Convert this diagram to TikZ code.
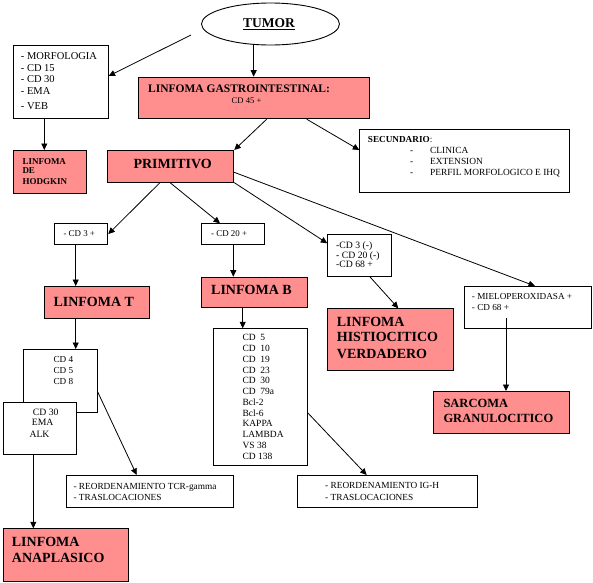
\documentclass[tikz,border=0pt]{standalone}
\usepackage{fontspec}
\setmainfont{Liberation Serif}
\usetikzlibrary{arrows.meta,shapes.geometric,calc}
\definecolor{pinkc}{RGB}{255,143,143}
\newcommand{\fs}[1]{\fontsize{#1}{#1}\selectfont}
\begin{document}
\begin{tikzpicture}[x=1pt,y=-1pt,
  box/.style={draw, line width=0.9pt, fill=white, inner sep=0pt, anchor=north west},
  pbox/.style={box, fill=pinkc},
  txt/.style={inner sep=0pt, anchor=base west},
  ctxt/.style={inner sep=0pt, anchor=base},
  arr/.style={line width=0.8pt, -{Triangle[length=6.5pt,width=6pt]}},
  ln/.style={line width=0.8pt}]
\useasboundingbox (0,0) rectangle (593,582);

% ---------- boxes ----------
\node[ellipse, draw, line width=0.9pt, inner sep=0pt, minimum width=138pt, minimum height=42pt] (tumor) at (270.5,24) {};
\node[pbox, minimum width=231pt, minimum height=41.6pt] (gastro) at (138.3,76.7) {};
\node[box, minimum width=95pt, minimum height=73.3pt] (morf) at (12.7,45) {};
\node[pbox, minimum width=73.3pt, minimum height=42.7pt] (hodg) at (12.7,150) {};
\node[pbox, minimum width=126pt, minimum height=31.7pt] (prim) at (107.3,150) {};
\node[box, minimum width=210pt, minimum height=63pt] (sec) at (359.3,129.3) {};
\node[box, minimum width=53pt, minimum height=20.7pt] (cdtp) at (54.3,223.3) {};
\node[box, minimum width=63.3pt, minimum height=20.7pt] (cdbp) at (201,223.3) {};
\node[box, minimum width=63.4pt, minimum height=41.7pt] (cdm) at (327.3,234.3) {};
\node[box, minimum width=126.7pt, minimum height=42.3pt] (mielo) at (464.3,286) {};
\node[pbox, minimum width=105pt, minimum height=32.3pt] (lint) at (44.3,286) {};
\node[pbox, minimum width=105.7pt, minimum height=30pt] (linb) at (201,276.7) {};
\node[pbox, minimum width=126pt, minimum height=61.7pt] (hist) at (327.3,308.3) {};
\node[pbox, minimum width=136.6pt, minimum height=42.3pt] (sarc) at (432.7,391) {};
\node[box, minimum width=73.4pt, minimum height=62.7pt] (cdq) at (23.3,349) {};
\node[box, minimum width=73pt, minimum height=51.7pt] (cdth) at (2.7,402.3) {};
\node[box, minimum width=94pt, minimum height=136.7pt] (lbl) at (212.7,328.3) {};
\node[box, minimum width=167.6pt, minimum height=32.3pt] (tcr) at (65.7,475) {};
\node[box, minimum width=180.6pt, minimum height=31.7pt] (igh) at (296.7,475) {};
\node[pbox, minimum width=125.6pt, minimum height=52.4pt] (anap) at (2.7,528.3) {};

% ---------- texts ----------
\node[ctxt, font=\fs{13.5}\bfseries] (tumorT) at (269,27.3) {\underline{TUMOR}};
\node[txt, font=\fs{11.5}\bfseries] (gastroT) at (148,92) {LINFOMA GASTROINTESTINAL:};
\node[ctxt, font=\fs{8.6}] (gastroT2) at (246.5,103.5) {CD 45 +};

\foreach \t/\yy [count=\i] in {- MORFOLOGIA/59, - CD 15/71, - CD 30/82.7, - EMA/94.7, - VEB/109}
  \node[txt, font=\fs{10.5}] (morfT\i) at (20.7,\yy) {\t};

\foreach \t/\yy [count=\i] in {LINFOMA/164, DE/173.5, HODGKIN/184.3}
  \node[txt, font=\fs{9}\bfseries] (hodgT\i) at (22.3,\yy) {\t};

\node[ctxt, font=\fs{14}\bfseries] (primT) at (172.7,168.3) {PRIMITIVO};

\node[txt, font=\fs{9.2}] (secT) at (367.7,142.7) {\textbf{SECUNDARIO}:};
\foreach \t/\yy [count=\i] in {CLINICA/153.3, EXTENSION/164, PERFIL MORFOLOGICO E IHQ/175}{
  \node[txt, font=\fs{9.4}] (secD\i) at (410,\yy) {-};
  \node[txt, font=\fs{9.4}] (secT\i) at (430,\yy) {\t};
}

\node[txt, font=\fs{8.9}] (cdtpT) at (63.3,236) {- CD 3 +};
\node[txt, font=\fs{8.9}] (cdbpT) at (211,236) {- CD 20 +};

\foreach \t/\yy [count=\i] in {-CD 3 (-)/248.5, - CD 20 (-)/258.3, -CD 68 +/267.7}
  \node[txt, font=\fs{9.7}] (cdmT\i) at (336,\yy) {\t};

\foreach \t/\yy [count=\i] in {- MIELOPEROXIDASA +/299.3, - CD 68 +/310.7}
  \node[txt, font=\fs{9.2}] (mieloT\i) at (471.7,\yy) {\t};

\node[txt, font=\fs{14}\bfseries] (lintT) at (53.3,306) {LINFOMA T};
\node[txt, font=\fs{14}\bfseries] (linbT) at (211,294.3) {LINFOMA B};

\foreach \t/\yy [count=\i] in {LINFOMA/326, HISTIOCITICO/341.7, VERDADERO/358.3}
  \node[txt, font=\fs{14}\bfseries] (histT\i) at (336.7,\yy) {\t};

\foreach \t/\yy [count=\i] in {SARCOMA/407, GRANULOCITICO/422}
  \node[txt, font=\fs{12.5}\bfseries] (sarcT\i) at (443.3,\yy) {\t};

\foreach \t/\yy [count=\i] in {CD 4/362.3, CD 5/373.3, CD 8/384.3}
  \node[txt, font=\fs{9.2}] (cdqT\i) at (53.3,\yy) {\t};

\node[txt, font=\fs{9.7}] (cdthT1) at (32.7,415) {CD 30};
\node[txt, font=\fs{9.7}] (cdthT2) at (31.7,425) {EMA};
\node[txt, font=\fs{9.7}] (cdthT3) at (29.3,437.3) {ALK};

\foreach \t [count=\i] in {CD\ \ 5, CD\ \ 10, CD\ \ 19, CD\ \ 23, CD\ \ 30, CD\ \ 79a, Bcl-2, Bcl-6, KAPPA, LAMBDA, VS 38, CD 138}
  \node[txt, font=\fs{9.5}] (lblT\i) at (242.3,{340.7+10.78*(\i-1)}) {\t};

\node[txt, font=\fs{9.3}] (tcrT1) at (73.3,489.3) {- REORDENAMIENTO TCR-gamma};
\node[txt, font=\fs{9.3}] (tcrT2) at (73.3,500.7) {- TRASLOCACIONES};
\node[txt, font=\fs{9.3}] (ighT1) at (325,488.3) {- REORDENAMIENTO IG-H};
\node[txt, font=\fs{9.3}] (ighT2) at (325,500) {- TRASLOCACIONES};

\foreach \t/\yy [count=\i] in {LINFOMA/546.7, ANAPLASICO/562.7}
  \node[txt, font=\fs{14}\bfseries] (anapT\i) at (11.7,\yy) {\t};

% ---------- connectors ----------
\coordinate (ts) at (191,35);
\draw[arr] (tumor.231) -- (tumor.231 |- gastro.north);
\draw[arr] (ts) -- ($(morf.north east)+(0,31)$);
\coordinate (h1) at ($(hodg.north west)+(31.6,0)$);
\draw[arr] (morf.south -| h1) -- (h1);
\draw[arr] ($(gastro.south west)+(128.4,0)$) -- (prim.north east);
\draw[arr] ($(gastro.south west)+(168.4,0)$) -- ($(sec.north west)+(0,20.7)$);
\draw[arr] ($(prim.south west)+(52.7,0)$) -- (cdtp.east);
\draw[arr] ($(prim.south west)+(62.7,0)$) -- ($(cdbp.north west)+(19,0)$);
\draw[arr] (prim.south east) -- ($(cdm.north west)+(0,9)$);
\draw[arr] ($(prim.north east)+(0,22.3)$) -- ($(mielo.north west)+(70.7,0)$);
\coordinate (t1) at ($(cdtp.south west)+(21.4,0)$);
\draw[arr] (t1) -- (t1 |- lint.north);
\draw[arr] (t1 |- lint.south) -- (t1 |- cdq.north);
\draw[arr] ($(cdq.north east)+(0,42.7)$) -- ($(tcr.north west)+(71,0)$);
\coordinate (a1) at ($(cdth.south west)+(30.6,0)$);
\draw[arr] (a1) -- (a1 |- anap.north);
\coordinate (b1) at ($(cdbp.south west)+(32.3,0)$);
\draw[arr] (b1) -- (b1 |- linb.north);
\coordinate (b2) at ($(linb.south west)+(41.7,0)$);
\draw[arr] (b2) -- (b2 |- lbl.north);
\draw[arr] ($(lbl.north east)+(0,84.4)$) -- ($(igh.north west)+(70,0)$);
\draw[arr] ($(cdm.south west)+(42.7,0)$) -- ($(hist.north west)+(71,0)$);
\coordinate (s1) at ($(mielo.north west)+(41.7,32.3)$);
\draw[arr] (s1) -- (s1 |- sarc.north);
\end{tikzpicture}
\end{document}
